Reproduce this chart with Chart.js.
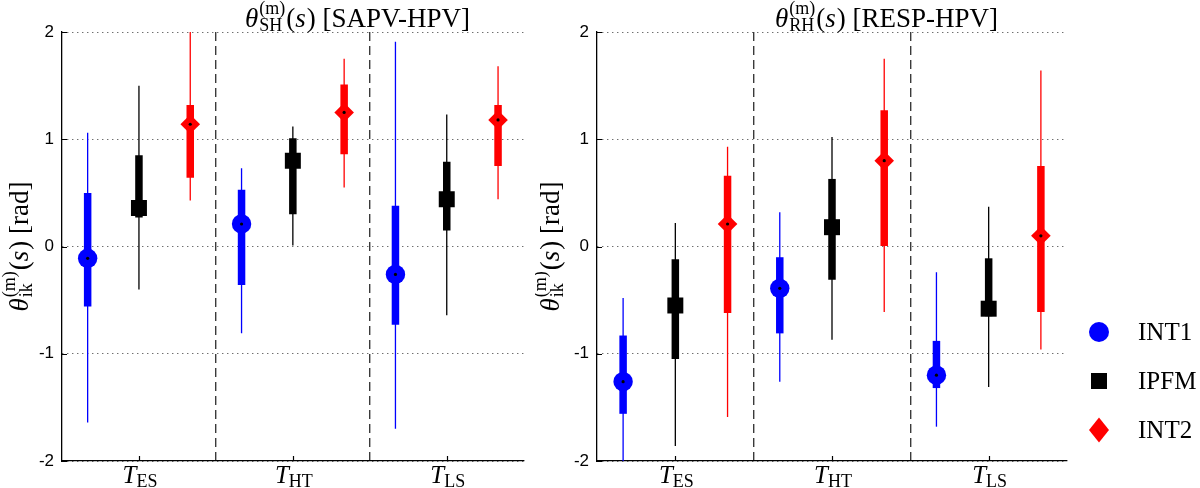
<!DOCTYPE html>
<html>
<head>
<meta charset="utf-8">
<script src="https://cdn.jsdelivr.net/npm/chart.js@4.4.1/dist/chart.umd.min.js"></script>
<style>
  html, body { margin: 0; padding: 0; background: #fff; }
  body { width: 1200px; height: 488px; position: relative; overflow: hidden; }
  canvas { position: absolute; top: 0; }
  #left { left: 0; }
  #right { left: 535px; }
</style>
</head>
<body>
<canvas id="left" width="535" height="488"></canvas>
<canvas id="right" width="665" height="488"></canvas>
<script>
// time windows (subscript of T) and the three methods
const groups = ['ES', 'HT', 'LS'];
const seriesNames = ['INT1', 'IPFM', 'INT2'];
const seriesColors = ['#0000ff', '#000000', '#ff0000'];
const markerStyles = ['circle', 'rect', 'rectRot'];
const markerRadius = [9.7, 11.3, 9.8];
const yTicks = [-2, -1, 0, 1, 2];

// theta_SH (SAPV-HPV): whisker range, box range, median for ES / HT / LS
const shInt1Whisk = [[-1.64, 1.06], [-0.81, 0.73], [-1.70, 1.91]];
const shInt1Box = [[-0.56, 0.50], [-0.36, 0.53], [-0.73, 0.38]];
const shInt1Med = [-0.11, 0.21, -0.26];
const shIpfmWhisk = [[-0.40, 1.50], [0.01, 1.12], [-0.64, 1.23]];
const shIpfmBox = [[0.27, 0.85], [0.30, 1.01], [0.15, 0.79]];
const shIpfmMed = [0.36, 0.80, 0.44];
const shInt2Whisk = [[0.43, 2.00], [0.55, 1.75], [0.44, 1.68]];
const shInt2Box = [[0.64, 1.32], [0.86, 1.51], [0.75, 1.32]];
const shInt2Med = [1.14, 1.25, 1.18];

// theta_RH (RESP-HPV)
const rhInt1Whisk = [[-2.00, -0.48], [-1.26, 0.32], [-1.68, -0.24]];
const rhInt1Box = [[-1.56, -0.83], [-0.81, -0.10], [-1.32, -0.88]];
const rhInt1Med = [-1.26, -0.39, -1.20];
const rhIpfmWhisk = [[-1.86, 0.22], [-0.87, 1.02], [-1.31, 0.37]];
const rhIpfmBox = [[-1.05, -0.12], [-0.31, 0.63], [-0.65, -0.11]];
const rhIpfmMed = [-0.55, 0.18, -0.58];
const rhInt2Whisk = [[-1.59, 0.93], [-0.61, 1.75], [-0.96, 1.64]];
const rhInt2Box = [[-0.62, 0.66], [0.00, 1.27], [-0.61, 0.75]];
const rhInt2Med = [0.21, 0.80, 0.10];

Chart.defaults.font.family = 'Liberation Sans';
Chart.defaults.color = '#000';

const SERIF = 'Liberation Serif';
function font(size, style) {
  return (style || 'normal') + ' ' + size + 'px "' + SERIF + '"';
}

// draws a run of text pieces, sub/superscripts stacked; returns width
function drawRich(ctx, runs, x, y, draw) {
  let cx = x;
  runs.forEach(r => {
    ctx.font = r.f;
    if (r.sup !== undefined) {
      const w1 = ctx.measureText(r.sup).width;
      const w2 = ctx.measureText(r.sub).width;
      if (draw) {
        ctx.fillText(r.sup, cx, y + r.supDy);
        ctx.fillText(r.sub, cx, y + r.subDy);
      }
      cx += Math.max(w1, w2) + 1;
    } else {
      if (draw) ctx.fillText(r.t, cx, y + (r.dy || 0));
      cx += ctx.measureText(r.t).width + (r.kern || 0);
    }
  });
  return cx - x;
}

function thetaRuns(size, sub, rest) {
  const s = Math.round(size * 0.68);
  return [
    {t: 'θ', f: font(size, 'italic'), kern: 1},
    {sup: '(m)', sub: sub, f: font(s), supDy: -size * 0.5, subDy: size * 0.14},
    {t: '(', f: font(size)},
    {t: 's', f: font(size, 'italic'), kern: 1},
    {t: ')' + rest, f: font(size)}
  ];
}

const panelText = {
  id: 'panelText',
  afterDraw(chart, args, opts) {
    const ctx = chart.ctx;
    const area = chart.chartArea;
    const xs = chart.scales.x;
    const ys = chart.scales.y;
    ctx.save();
    ctx.fillStyle = '#000';
    ctx.strokeStyle = '#000';
    ctx.lineWidth = 1.2;
    ctx.textBaseline = 'alphabetic';
    ctx.textAlign = 'left';

    // small inward tick marks
    ctx.beginPath();
    groups.forEach((g, i) => {
      const px = Math.round(xs.getPixelForValue(i)) + 0.5;
      ctx.moveTo(px, area.bottom);
      ctx.lineTo(px, area.bottom - 5);
    });
    yTicks.forEach(v => {
      const py = Math.round(ys.getPixelForValue(v)) + 0.5;
      ctx.moveTo(area.left, py);
      ctx.lineTo(area.left + 5, py);
    });
    ctx.stroke();

    // x labels T_ES, T_HT, T_LS
    groups.forEach((g, i) => {
      const runs = [
        {t: 'T', f: font(25, 'italic'), kern: 0},
        {t: g, f: font(18), dy: 4}
      ];
      const w = drawRich(ctx, runs, 0, 0, false);
      drawRich(ctx, runs, xs.getPixelForValue(i) - w / 2 + 1, 483, true);
    });

    // title
    drawRich(ctx, opts.title, opts.titleX, 27, true);

    // y axis title, rotated
    const yl = thetaRuns(27, 'ik', ' [rad]');
    const len = drawRich(ctx, yl, 0, 0, false);
    ctx.save();
    ctx.translate(opts.yLabelX, (area.top + area.bottom) / 2);
    ctx.rotate(-Math.PI / 2);
    drawRich(ctx, yl, -len / 2, 0, true);
    ctx.restore();

    // legend
    if (opts.legend) {
      const lx = opts.legendX;
      seriesNames.forEach((name, k) => {
        const ly = opts.legendY[k];
        ctx.fillStyle = seriesColors[k];
        ctx.beginPath();
        if (markerStyles[k] === 'circle') {
          ctx.arc(lx, ly, 10, 0, Math.PI * 2);
        } else if (markerStyles[k] === 'rect') {
          ctx.rect(lx - 8, ly - 8, 16, 16);
        } else {
          ctx.moveTo(lx, ly - 12.5);
          ctx.lineTo(lx + 10, ly);
          ctx.lineTo(lx, ly + 12.5);
          ctx.lineTo(lx - 10, ly);
          ctx.closePath();
        }
        ctx.fill();
        ctx.fillStyle = '#000';
        ctx.font = font(25);
        ctx.textBaseline = 'middle';
        ctx.fillText(name, lx + 39, ly + 1);
        ctx.textBaseline = 'alphabetic';
      });
    }
    ctx.restore();
  }
};

// series k sits at offset (k-1)/3 inside each time window
function place(values, k) {
  return values.map((v, i) => ({x: i + (k - 1) / 3, y: v}));
}

function buildDatasets(whisk, box, med) {
  const ds = [];
  seriesNames.forEach((name, k) => {
    const c = seriesColors[k];
    ds.push({
      type: 'bar', label: name + ' range', data: place(whisk[k], k), xAxisID: 'xm',
      grouped: false, backgroundColor: c, borderWidth: 0, maxBarThickness: 1.3,
      inflateAmount: 0, order: 4
    });
    ds.push({
      type: 'bar', label: name + ' IQR', data: place(box[k], k), xAxisID: 'xm',
      grouped: false, backgroundColor: c, borderWidth: 0, maxBarThickness: 7.5,
      inflateAmount: 0, order: 3
    });
    const pts = place(med[k], k);
    ds.push({
      type: 'line', label: name, data: pts, xAxisID: 'xm', showLine: false,
      pointStyle: markerStyles[k], pointRadius: markerRadius[k],
      pointBackgroundColor: c, pointBorderWidth: 0, order: 2
    });
    ds.push({
      type: 'line', label: name + ' median', data: pts, xAxisID: 'xm', showLine: false,
      pointStyle: 'circle', pointRadius: 1.6,
      pointBackgroundColor: '#000', pointBorderWidth: 0, order: 1
    });
  });
  return ds;
}

function makePanel(id, whisk, box, med, textOpts, padRight) {
  return new Chart(document.getElementById(id), {
    type: 'bar',
    data: {labels: groups, datasets: buildDatasets(whisk, box, med)},
    options: {
      responsive: false,
      animation: false,
      events: [],
      layout: {padding: {top: 32, right: padRight, left: 0, bottom: 0}},
      datasets: {bar: {categoryPercentage: 1, barPercentage: 1}},
      scales: {
        x: {
          type: 'category',
          grid: {
            offset: true, drawTicks: false, lineWidth: 1.4,
            color: c => (c.index === 1 || c.index === 2) ? '#3a3a3a' : 'rgba(0,0,0,0)'
          },
          border: {color: '#000', width: 1.3, dash: [9, 5]},
          ticks: {display: false},
          afterFit: s => { s.height = 27; }
        },
        xm: {type: 'linear', display: false, offset: false, min: -0.5, max: 2.5},
        y: {
          min: -2, max: 2, stacked: false,
          afterBuildTicks: s => { s.ticks = yTicks.map(v => ({value: v})); },
          ticks: {font: {size: 17}, color: '#000', padding: 8},
          grid: {drawTicks: false, color: '#333', lineWidth: 1},
          border: {color: '#000', width: 1.3, dash: [1, 4]},
          afterFit: s => { s.width = 62; }
        }
      },
      plugins: {
        legend: {display: false},
        tooltip: {enabled: false},
        panelText: textOpts
      }
    },
    plugins: [panelText]
  });
}

makePanel('left',
  [shInt1Whisk, shIpfmWhisk, shInt2Whisk],
  [shInt1Box, shIpfmBox, shInt2Box],
  [shInt1Med, shIpfmMed, shInt2Med],
  {title: thetaRuns(27, 'SH', ' [SAPV-HPV]'), titleX: 245, yLabelX: 28, legend: false},
  5);

makePanel('right',
  [rhInt1Whisk, rhIpfmWhisk, rhInt2Whisk],
  [rhInt1Box, rhIpfmBox, rhInt2Box],
  [rhInt1Med, rhIpfmMed, rhInt2Med],
  {title: thetaRuns(27, 'RH', ' [RESP-HPV]'), titleX: 240, yLabelX: 24, legend: true,
   legendX: 564, legendY: [332, 381, 430]},
  133);
</script>
</body>
</html>
